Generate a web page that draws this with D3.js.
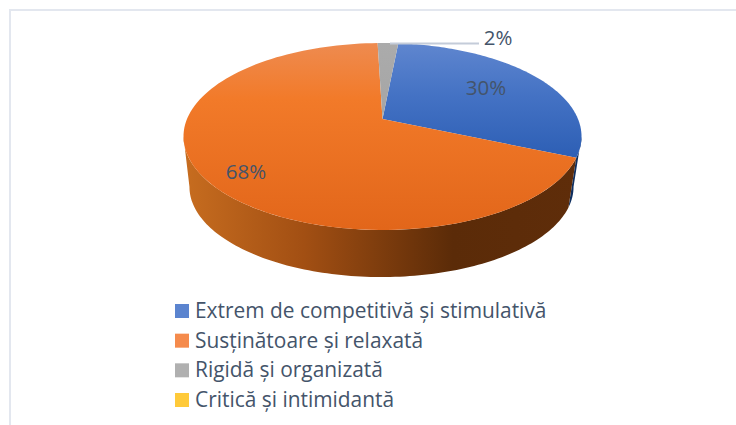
<!DOCTYPE html>
<html>
<head>
<meta charset="utf-8">
<script src="https://cdn.jsdelivr.net/npm/d3@7"></script>
<style>
html, body { margin: 0; padding: 0; background: #fff; }
text { font-family: "Open Sans", sans-serif; fill: #44546a; }
</style>
</head>
<body>
<div class="canvas"></div>
<script>
var categories = ["Extrem de competitivă și stimulativă", "Susținătoare și relaxată", "Rigidă și organizată", "Critică și intimidantă"];
var values = [30, 68, 2, 0];
var percentLabels = ["30%", "68%", "2%"];

var w = 736, h = 425;

var paper = d3.select(".canvas")
	.append("svg")
	.attr("width", w)
	.attr("height", h)
	.style("display", "block");

//frame, only top and left edges show
paper.append("path")
	.attr("d", "M10,425V10H736")
	.style("fill", "none")
	.style("stroke", "#e3e7ef")
	.style("stroke-width", 2);

var defs = paper.append("defs");

function vGrad(id, stops, y1, y2) {
	var g = defs.append("linearGradient")
		.attr("id", id)
		.attr("gradientUnits", "userSpaceOnUse")
		.attr("x1", 0).attr("x2", 0)
		.attr("y1", y1).attr("y2", y2);
	stops.forEach(function (s) {
		g.append("stop").attr("offset", s[0]).attr("stop-color", s[1]);
	});
}
function hGrad(id, stops, x1, x2) {
	var g = defs.append("linearGradient")
		.attr("id", id)
		.attr("gradientUnits", "userSpaceOnUse")
		.attr("y1", 0).attr("y2", 0)
		.attr("x1", x1).attr("x2", x2);
	stops.forEach(function (s) {
		g.append("stop").attr("offset", s[0]).attr("stop-color", s[1]);
	});
}

//top face gradients
vGrad("top0", [[0, "#5f86cf"], [0.45, "#4472c4"], [1, "#2c5eb4"]], 43, 160);
vGrad("top1", [[0, "#ee8b50"], [0.3, "#f27a29"], [1, "#e2661a"]], 43, 230);
vGrad("top2", [[0, "#ababab"], [1, "#a5a5a5"]], 43, 120);
vGrad("top3", [[0, "#ffc000"], [1, "#e8ae00"]], 43, 120);
//side wall gradients
hGrad("wall0", [[0, "#0f2f60"], [1, "#0f2f60"]], 560, 590);
hGrad("wall1", [[0, "#c66c1f"], [0.3, "#a24f13"], [0.68, "#5b2b08"], [1, "#5f2d0a"]], 187, 578);
hGrad("wall2", [[0, "#666"], [1, "#666"]], 187, 578);
hGrad("wall3", [[0, "#997300"], [1, "#997300"]], 187, 578);
//legend swatches
vGrad("leg0", [[0, "#5b84cf"], [1, "#2e5fb5"]], 304, 318);
vGrad("leg1", [[0, "#f58b4c"], [1, "#e2661a"]], 334, 348);
vGrad("leg2", [[0, "#b0b0b0"], [1, "#959595"]], 363, 377);
vGrad("leg3", [[0, "#ffca3a"], [1, "#eeb000"]], 393, 407);

//perspective of the tilted disc: far edge 43, hub 119, near edge 230
var cx = 382.5, hubY = 119, radius = 195.5, persp = 0.187, tilt = -67.95;
var lowerScale = 0.965, lowerY = 170;
//widest points of the disc, only the wall between them faces us
var sideA = Math.acos(-persp), sideB = 2 * Math.PI - sideA;

function project(a) {
	var u = Math.sin(a), v = Math.cos(a), d = 1 + persp * v;
	return [cx + radius * u / d, (tilt * v + hubY) / d];
}
function projectLow(a) {
	var p = project(a);
	return [cx - 1 + lowerScale * (p[0] - cx), lowerY + lowerScale * (p[1] - hubY)];
}
function arcAngles(s, e) {
	return d3.range(0, 1.0001, 1 / 120).map(function (t) { return s + (e - s) * t; });
}

var line = d3.line();
var startAngle = 5.5 * Math.PI / 180;
var pie = d3.pie().sort(null).startAngle(startAngle).endAngle(startAngle + 2 * Math.PI);
var slices = pie(values);

//walls first, the top faces go over them
paper.append("g").selectAll("path")
	.data(slices)
	.join("path")
	.attr("d", function (d) {
		var s = Math.max(d.startAngle, sideA), e = Math.min(d.endAngle, sideB);
		if (e <= s) return null;
		var as = arcAngles(s, e);
		return line(as.map(project).concat(as.slice().reverse().map(projectLow))) + "Z";
	})
	.style("fill", function (d, i) { return "url(#wall" + i + ")"; });

paper.append("g").selectAll("path")
	.data(slices)
	.join("path")
	.attr("d", function (d) {
		return line([[cx, hubY]].concat(arcAngles(d.startAngle, d.endAngle).map(project))) + "Z";
	})
	.style("fill", function (d, i) { return "url(#top" + i + ")"; });

//leader line of the small slice
paper.append("line")
	.attr("x1", 390).attr("y1", 43.5)
	.attr("x2", 479).attr("y2", 43.5)
	.style("stroke", "#c4ccd9")
	.style("stroke-width", 2);

var labelPos = [[486, 95], [246, 179], [498, 45]];
paper.append("g").selectAll("text")
	.data(percentLabels)
	.join("text")
	.attr("x", function (d, i) { return labelPos[i][0]; })
	.attr("y", function (d, i) { return labelPos[i][1]; })
	.attr("text-anchor", "middle")
	.style("font-size", "20.5px")
	.text(function (d) { return d; });

//legend
var legendY = d3.scalePoint().domain(categories).range([304, 393]);
var legend = paper.append("g").selectAll("g")
	.data(categories)
	.join("g")
	.attr("transform", function (d) { return "translate(175," + legendY(d) + ")"; });
legend.append("rect")
	.attr("width", 14)
	.attr("height", 14)
	.style("fill", function (d, i) { return "url(#leg" + i + ")"; });
legend.append("text")
	.attr("x", 20)
	.attr("y", 14)
	.style("font-size", "20.9px")
	.text(function (d) { return d; });
</script>
</body>
</html>
